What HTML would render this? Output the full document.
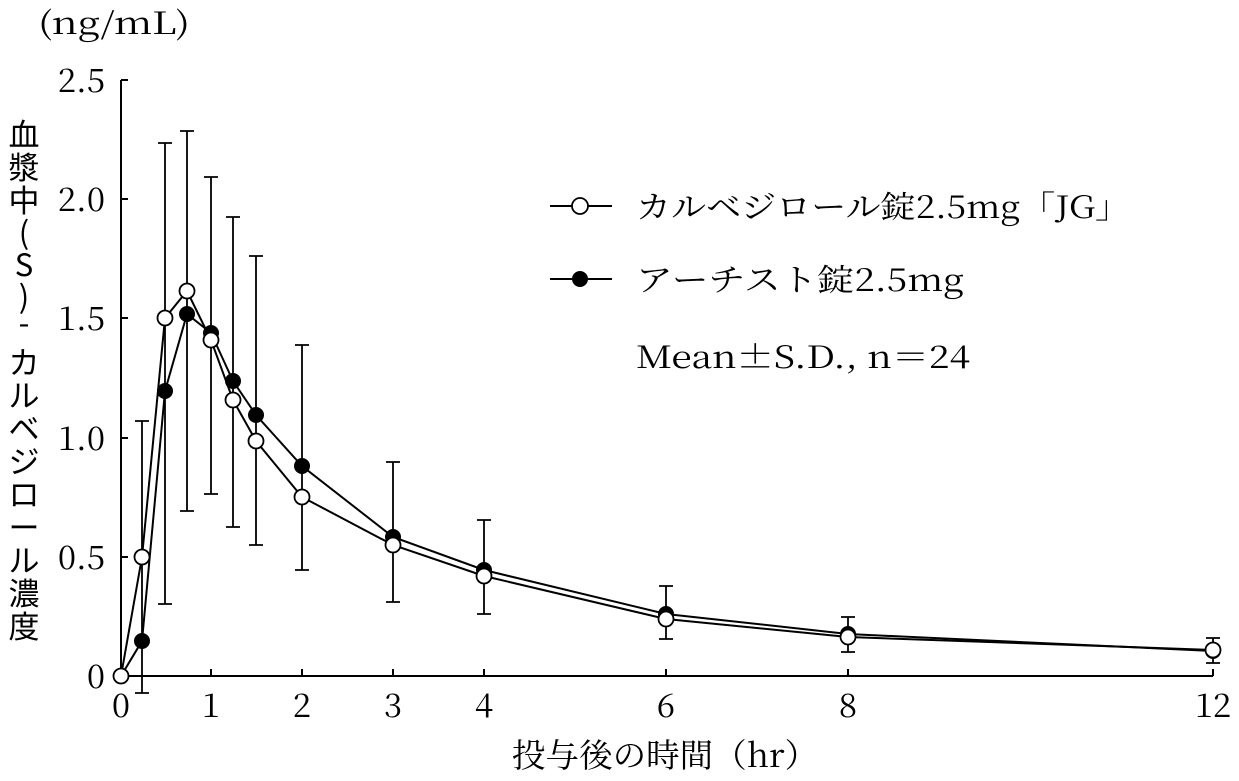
<!DOCTYPE html>
<html><head><meta charset="utf-8"><style>
html,body{margin:0;padding:0;background:#fff;}
svg{display:block;}
.s{font-family:"Noto Serif CJK JP","Noto Serif CJK SC","Liberation Serif",serif;}
.j{font-family:"Noto Sans CJK JP","Liberation Sans",sans-serif;}
</style></head><body>
<svg width="1239" height="781" viewBox="0 0 1239 781" xmlns="http://www.w3.org/2000/svg">
<g stroke="#000" stroke-width="2" fill="none">
<line x1="121" y1="80" x2="121" y2="676"/>
<line x1="121" y1="676" x2="1213" y2="676"/>
<line x1="121" y1="80" x2="128" y2="80"/>
<line x1="121" y1="199" x2="128" y2="199"/>
<line x1="121" y1="318" x2="128" y2="318"/>
<line x1="121" y1="438" x2="128" y2="438"/>
<line x1="121" y1="557" x2="128" y2="557"/>
<line x1="211" y1="676" x2="211" y2="669"/>
<line x1="302" y1="676" x2="302" y2="669"/>
<line x1="393" y1="676" x2="393" y2="669"/>
<line x1="484" y1="676" x2="484" y2="669"/>
<line x1="666" y1="676" x2="666" y2="669"/>
<line x1="848" y1="676" x2="848" y2="669"/>
<line x1="1213" y1="676" x2="1213" y2="669"/>
</g>
<g stroke="#000" stroke-width="1.8">
<path d="M142 421V693M135 421H149M135 693H149"/>
<path d="M165 143V604M158 143H172M158 604H172"/>
<path d="M187 131V511M180 131H194M180 511H194"/>
<path d="M211 177V494M204 177H218M204 494H218"/>
<path d="M233 217V527M226 217H240M226 527H240"/>
<path d="M256 256V545M249 256H263M249 545H263"/>
<path d="M302 345V570M295 345H309M295 570H309"/>
<path d="M393 462V602M386 462H400M386 602H400"/>
<path d="M484 520V614M477 520H491M477 614H491"/>
<path d="M666 586V639M659 586H673M659 639H673"/>
<path d="M848 617V652M841 617H855M841 652H855"/>
<path d="M1213 638V663M1206 638H1220M1206 663H1220"/>
</g>
<polyline fill="none" stroke="#000" stroke-width="2" points="121,676 142,641 165,391 187,314 211,333 233,381 256,415 302,466 393,537 484,570 666,614 848,634 1213,651"/>
<polyline fill="none" stroke="#000" stroke-width="2" points="121,676 142,557 165,318 187,291 211,340 233,400 256,441 302,497 393,545 484,576 666,619 848,637 1213,650"/>
<g fill="#000">
<circle cx="142" cy="641" r="8"/><circle cx="165" cy="391" r="8"/><circle cx="187" cy="314" r="8"/><circle cx="211" cy="333" r="8"/><circle cx="233" cy="381" r="8"/><circle cx="256" cy="415" r="8"/><circle cx="302" cy="466" r="8"/><circle cx="393" cy="537" r="8"/><circle cx="484" cy="570" r="8"/><circle cx="666" cy="614" r="8"/><circle cx="848" cy="634" r="8"/><circle cx="1213" cy="651" r="8"/>
</g>
<g fill="#fff" stroke="#000" stroke-width="1.8">
<circle cx="121" cy="676" r="7.5"/><circle cx="142" cy="557" r="7.5"/><circle cx="165" cy="318" r="7.5"/><circle cx="187" cy="291" r="7.5"/><circle cx="211" cy="340" r="7.5"/><circle cx="233" cy="400" r="7.5"/><circle cx="256" cy="441" r="7.5"/><circle cx="302" cy="497" r="7.5"/><circle cx="393" cy="545" r="7.5"/><circle cx="484" cy="576" r="7.5"/><circle cx="666" cy="619" r="7.5"/><circle cx="848" cy="637" r="7.5"/><circle cx="1213" cy="650" r="7.5"/>
</g>
<line x1="550" y1="206" x2="612" y2="206" stroke="#000" stroke-width="2"/>
<circle cx="580" cy="206" r="8" fill="#fff" stroke="#000" stroke-width="1.8"/>
<line x1="550" y1="279" x2="612" y2="279" stroke="#000" stroke-width="2"/>
<circle cx="580" cy="279" r="8" fill="#000"/>
<g class="s" font-size="31" fill="#000">
<text x="636" y="218" textLength="494" lengthAdjust="spacingAndGlyphs">カルベジロール錠2.5mg「JG」</text>
<text x="636" y="291" textLength="328" lengthAdjust="spacingAndGlyphs">アーチスト錠2.5mg</text>
<text x="636" y="368" textLength="334" lengthAdjust="spacingAndGlyphs">Mean±S.D., n＝24</text>
<text x="38" y="34" textLength="152" lengthAdjust="spacingAndGlyphs">(ng/mL)</text>
</g>
<g class="s" font-size="33" fill="#000">
<g text-anchor="end">
<text x="105" y="92">2.5</text><text x="105" y="211">2.0</text><text x="105" y="330">1.5</text><text x="105" y="450">1.0</text><text x="105" y="569">0.5</text><text x="105" y="688">0</text>
</g>
<g text-anchor="middle">
<text x="121" y="717">0</text><text x="211" y="717">1</text><text x="302" y="717">2</text><text x="393" y="717">3</text><text x="484" y="717">4</text><text x="666" y="717">6</text><text x="848" y="717">8</text><text x="1213" y="717">12</text>
<text x="665" y="767" textLength="306" lengthAdjust="spacingAndGlyphs">投与後の時間（hr）</text>
</g>
</g>
<g class="j" font-size="31" fill="#000" text-anchor="middle">
<text x="24" y="146">血</text><text x="24" y="179">漿</text><text x="24" y="212">中</text><text x="24" y="244">(</text><text x="24" y="276">S</text><text x="24" y="308">)</text><text x="24" y="334">-</text><text x="24" y="374">カ</text><text x="24" y="407">ル</text><text x="24" y="440">ベ</text><text x="24" y="473">ジ</text><text x="24" y="506">ロ</text><text x="24" y="539">ー</text><text x="24" y="572">ル</text><text x="24" y="605">濃</text><text x="24" y="638">度</text>
</g>
</svg>
</body></html>
